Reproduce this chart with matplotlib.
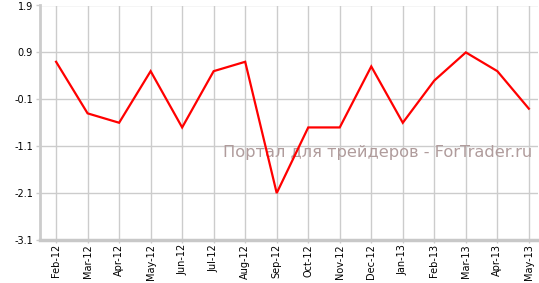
import matplotlib
matplotlib.use("Agg")
import matplotlib.pyplot as plt

months = ["Feb-12", "Mar-12", "Apr-12", "May-12", "Jun-12", "Jul-12", "Aug-12", "Sep-12",
          "Oct-12", "Nov-12", "Dec-12", "Jan-13", "Feb-13", "Mar-13", "Apr-13", "May-13"]
values = [0.7, -0.4, -0.6, 0.5, -0.7, 0.5, 0.7, -2.1,
          -0.7, -0.7, 0.6, -0.6, 0.3, 0.9, 0.5, -0.3]
yticks = [-3.1, -2.1, -1.1, -0.1, 0.9, 1.9]
watermark = "Портал для трейдеров - ForTrader.ru"

W, H = 539, 283
fig = plt.figure(figsize=(W / 100, H / 100), dpi=100)
ax = fig.add_axes([40 / W, 1 - 240 / H, (538 - 40) / W, (240 - 5.5) / H])

x = list(range(len(months)))
ax.plot(x, values, color="#ff0000", lw=1.6, zorder=3, solid_joinstyle="miter")

ax.set_xlim(-0.51, len(months) - 1 + 0.29)
ax.set_ylim(-3.1, 1.9)
ax.set_yticks(yticks)
ax.set_yticklabels([f"{v:.1f}" for v in yticks])
ax.set_xticks(x)
ax.set_xticklabels(months, rotation=90)

ax.grid(True, color="#cccccc", lw=1.0)
ax.tick_params(axis="both", color="#cccccc", length=3, width=1, pad=2,
               labelcolor="#000000")
ax.tick_params(axis="x", labelsize=7, pad=0.5, length=2.5)
ax.tick_params(axis="y", labelsize=7)
for s in ["top", "right"]:
    ax.spines[s].set_visible(False)
ax.spines["left"].set_color("#cccccc")
ax.spines["left"].set_linewidth(2)
ax.spines["bottom"].set_color("#c8c8c8")
ax.spines["bottom"].set_linewidth(2.5)

ax.text(0.988, 0.375, watermark, transform=ax.transAxes, ha="right", va="center",
        fontsize=11.7, color="#b09c9c", zorder=2)

fig.savefig("out.png", dpi=100)
